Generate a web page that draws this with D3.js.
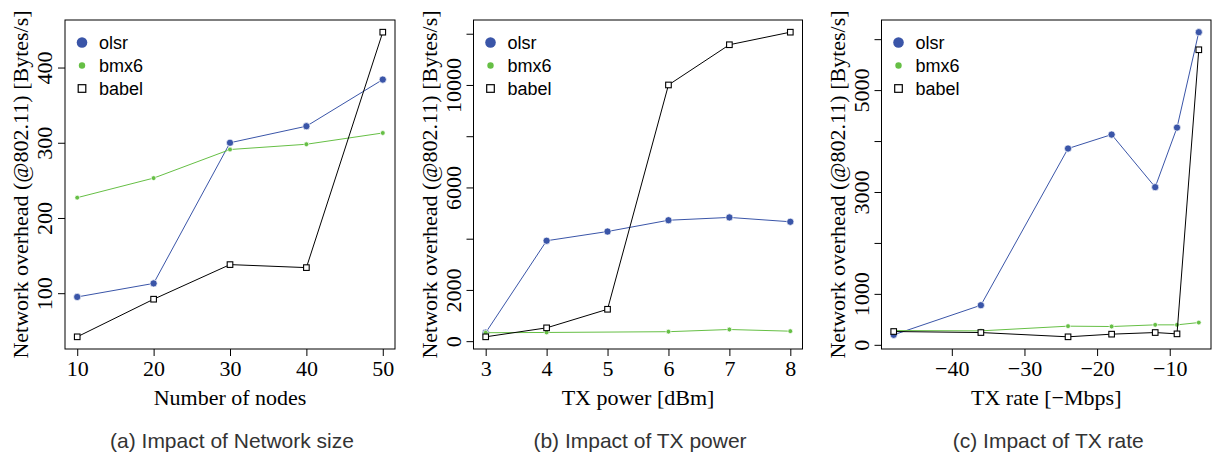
<!DOCTYPE html>
<html>
<head>
<meta charset="utf-8">
<script src="https://cdn.jsdelivr.net/npm/d3@7"></script>
<style>
  html, body { margin: 0; padding: 0; background: #fff; }
  svg { display: block; }
</style>
</head>
<body>
<svg id="chart" width="1215" height="453"></svg>
<script>
// ---------- data ----------
const seriesNames = ["olsr", "bmx6", "babel"];

const xA = [10, 20, 30, 40, 50];
const olsrA = [95, 113, 300, 322, 384];
const bmx6A = [227, 253, 291, 298, 313];
const babelA = [42, 92, 138, 134, 447];
const xTicksA = [10, 20, 30, 40, 50];
const yTicksA = [100, 200, 300, 400];
const yLabelsA = [100, 200, 300, 400];

const xB = [3, 4, 5, 6, 7, 8];
const olsrB = [330, 3920, 4280, 4720, 4830, 4660];
const bmx6B = [330, 340, null, 370, 455, 390];
const babelB = [170, 520, 1245, 10000, 11570, 12060];
const xTicksB = [3, 4, 5, 6, 7, 8];
const yTicksB = [0, 2000, 4000, 6000, 8000, 10000, 12000];
const yLabelsB = [0, 2000, 6000, 10000];

const xC = [-48, -36, -24, -18, -12, -9, -6];
const olsrC = [196, 777, 3853, 4127, 3095, 4264, 6137];
const bmx6C = [280, 274, 366, 359, 392, 392, 437];
const babelC = [261, 241, 157, 209, 241, 215, 5792];
const xTicksC = [-40, -30, -20, -10];
const yTicksC = [0, 1000, 2000, 3000, 4000, 5000, 6000];
const yLabelsC = [0, 1000, 3000, 5000];

const xTitles = ["Number of nodes", "TX power [dBm]", "TX rate [\u2212Mbps]"];
const captions = ["(a) Impact of Network size", "(b) Impact of TX power", "(c) Impact of TX rate"];
const yTitle = "Network overhead (@802.11) [Bytes/s]";

// ---------- styling ----------
const colors = { olsr: "#3a55a8", bmx6: "#66bf45", babel: "#000000" };
const serif = "'Liberation Serif', 'Times New Roman', serif";
const sans = "'Liberation Sans', Arial, sans-serif";

const panels = [
  { left: 65, right: 395, x: xA, s: [olsrA, bmx6A, babelA], xt: xTicksA, yt: yTicksA, yl: yLabelsA, fmtX: d => d },
  { left: 473.5, right: 802.5, x: xB, s: [olsrB, bmx6B, babelB], xt: xTicksB, yt: yTicksB, yl: yLabelsB, fmtX: d => d },
  { left: 881.5, right: 1211, x: xC, s: [olsrC, bmx6C, babelC], xt: xTicksC, yt: yTicksC, yl: yLabelsC, fmtX: d => (d < 0 ? "\u2212" + Math.abs(d) : d) }
];
const plotTop = 20, plotBottom = 349;

function rExt(vals) {
  const mn = d3.min(vals), mx = d3.max(vals);
  const pad = (mx - mn) * 0.04;
  return [mn - pad, mx + pad];
}

const svg = d3.select("#chart");

panels.forEach((p, i) => {
  const g = svg.append("g");
  const allY = p.s.flat().filter(v => v != null);
  const x = d3.scaleLinear().domain(rExt(p.x)).range([p.left, p.right]);
  const y = d3.scaleLinear().domain(rExt(allY)).range([plotBottom, plotTop]);

  g.append("rect")
    .attr("x", p.left).attr("y", plotTop)
    .attr("width", p.right - p.left).attr("height", plotBottom - plotTop)
    .attr("fill", "none").attr("stroke", "#000").attr("stroke-width", 1);

  const xAxis = g.append("g").attr("transform", `translate(0,${plotBottom})`)
    .call(d3.axisBottom(x).tickValues(p.xt).tickSize(7).tickSizeOuter(0).tickFormat(p.fmtX));
  xAxis.select(".domain").remove();
  xAxis.selectAll(".tick line").attr("stroke", "#000");
  xAxis.selectAll(".tick text")
    .attr("font-family", serif).attr("font-size", 22).attr("fill", "#000")
    .attr("y", 0).attr("dy", 0)
    .attr("transform", "translate(0,26.5)");

  const yAxis = g.append("g").attr("transform", `translate(${p.left},0)`)
    .call(d3.axisLeft(y).tickValues(p.yt).tickSize(7).tickSizeOuter(0)
      .tickFormat(d => p.yl.includes(d) ? d : ""));
  yAxis.select(".domain").remove();
  yAxis.selectAll(".tick line").attr("stroke", "#000");
  yAxis.selectAll(".tick text")
    .attr("font-family", serif).attr("font-size", 22).attr("fill", "#000")
    .attr("x", 0).attr("dy", 0)
    .attr("text-anchor", "middle")
    .attr("transform", "translate(-13,0) rotate(-90)");

  g.append("text")
    .attr("x", (p.left + p.right) / 2).attr("y", 405)
    .attr("text-anchor", "middle")
    .attr("font-family", serif).attr("font-size", 22).attr("fill", "#000")
    .text(xTitles[i]);
  g.append("text")
    .attr("transform", `translate(${p.left - 37},${(plotTop + plotBottom) / 2}) rotate(-90)`)
    .attr("text-anchor", "middle")
    .attr("font-family", serif).attr("font-size", 22).attr("fill", "#000")
    .text(yTitle);
  g.append("text")
    .attr("x", (p.left + p.right) / 2 + 2).attr("y", 448)
    .attr("text-anchor", "middle")
    .attr("font-family", sans).attr("font-size", 21).attr("fill", "#333")
    .text(captions[i]);

  seriesNames.forEach((name, k) => {
    const pts = p.x.map((xv, j) => [xv, p.s[k][j]]).filter(d => d[1] != null);
    g.append("path")
      .datum(pts)
      .attr("fill", "none")
      .attr("stroke", colors[name])
      .attr("stroke-width", 1)
      .attr("d", d3.line().x(d => x(d[0])).y(d => y(d[1])));
    if (name === "babel") {
      g.selectAll(null).data(pts).enter().append("rect")
        .attr("x", d => x(d[0]) - 2.8).attr("y", d => y(d[1]) - 2.8)
        .attr("width", 5.6).attr("height", 5.6)
        .attr("fill", "#fff").attr("stroke", "#000").attr("stroke-width", 1.1);
    } else {
      g.selectAll(null).data(pts).enter().append("circle")
        .attr("cx", d => x(d[0])).attr("cy", d => y(d[1]))
        .attr("r", name === "olsr" ? 3.6 : 2.4)
        .attr("fill", colors[name])
        .attr("stroke", "#fff").attr("stroke-width", 0.7);
    }
  });

  const lg = g.append("g");
  const rowsY = [42.5, 65.5, 88.5];
  seriesNames.forEach((name, k) => {
    const cx = p.left + 17, cy = rowsY[k];
    if (name === "babel") {
      lg.append("rect").attr("x", cx - 3.8).attr("y", cy - 3.8).attr("width", 7.6).attr("height", 7.6)
        .attr("fill", "#fff").attr("stroke", "#000").attr("stroke-width", 1.2);
    } else {
      lg.append("circle").attr("cx", cx).attr("cy", cy)
        .attr("r", name === "olsr" ? 5.3 : 3.2).attr("fill", colors[name]);
    }
    lg.append("text").attr("x", p.left + 34).attr("y", cy + 6.5)
      .attr("font-family", sans).attr("font-size", 18).attr("fill", "#000")
      .text(name);
  });
});
</script>
</body>
</html>
